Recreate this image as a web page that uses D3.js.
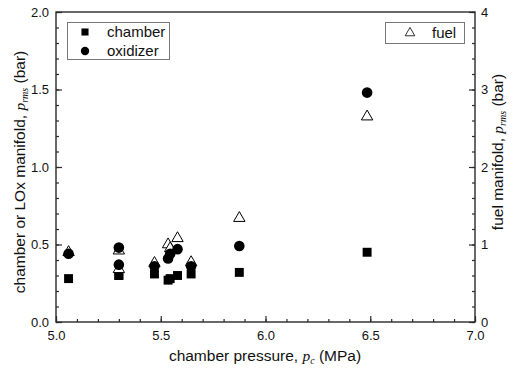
<!doctype html>
<html>
<head>
<meta charset="utf-8">
<style>
  body { margin: 0; background: #fff; }
  text { font-family: 'Liberation Sans', Arial, sans-serif; fill: #111; }
  .legend { font-size: 15px; }
  .title { font-size: 15.5px; }
  .it { font-family: 'Liberation Serif', serif; font-style: italic; }
</style>
<script src="https://d3js.org/d3.v7.min.js"></script>
</head>
<body>
<svg width="513" height="370"></svg>
<script>
// chamber pressure (MPa)
const pc       = [5.06, 5.30, 5.30, 5.47, 5.535, 5.545, 5.58, 5.645, 5.875, 6.485];
// rms pressure (bar), left axis
const chamber  = [0.28, 0.30, 0.30, 0.31, 0.27, 0.28, 0.30, 0.31, 0.32, 0.45];
const oxidizer = [0.44, 0.48, 0.37, 0.36, 0.41, 0.44, 0.47, 0.36, 0.49, 1.48];
// rms pressure (bar), right axis
const fuel     = [0.90, 0.92, 0.68, 0.76, 1.00, 0.95, 1.08, 0.77, 1.34, 2.65];

const xTicks = [5.0, 5.5, 6.0, 6.5, 7.0];
const yTicks = [0.0, 0.5, 1.0, 1.5, 2.0];
const y2Ticks = [0, 1, 2, 3, 4];

const svg = d3.select('svg');
const L = 56, R = 475, T = 12, B = 322;

const x = d3.scaleLinear().domain([5, 7]).range([L, R]);
const y = d3.scaleLinear().domain([0, 2]).range([B, T]);
const y2 = d3.scaleLinear().domain([0, 4]).range([B, T]);

const ink = '#2a2a2a';

// frame
svg.append('rect')
  .attr('x', L).attr('y', T).attr('width', R - L).attr('height', B - T)
  .attr('fill', 'none').attr('stroke', ink).attr('stroke-width', 1.4);

// axes, ticks pointing inward
svg.append('g').attr('transform', `translate(0,${B})`)
  .call(d3.axisBottom(x).tickValues(xTicks).tickFormat(d3.format('.1f')).tickSize(-6).tickPadding(9));
svg.append('g').attr('transform', `translate(0,${B})`)
  .call(d3.axisBottom(x).tickValues(d3.range(5, 7.001, 0.1)).tickFormat('').tickSize(-3));

svg.append('g').attr('transform', `translate(${L},0)`)
  .call(d3.axisLeft(y).tickValues(yTicks).tickFormat(d3.format('.1f')).tickSize(-6).tickPadding(7));
svg.append('g').attr('transform', `translate(${L},0)`)
  .call(d3.axisLeft(y).tickValues(d3.range(0, 2.001, 0.1)).tickFormat('').tickSize(-3));

svg.append('g').attr('transform', `translate(${R},0)`)
  .call(d3.axisRight(y2).tickValues(y2Ticks).tickFormat(d3.format('d')).tickSize(-6).tickPadding(6));
svg.append('g').attr('transform', `translate(${R},0)`)
  .call(d3.axisRight(y2).tickValues(d3.range(0, 4.001, 0.2)).tickFormat('').tickSize(-3));

svg.selectAll('.domain').remove();
svg.selectAll('.tick line').attr('stroke', ink).attr('stroke-width', 1.2);
svg.selectAll('.tick text').attr('fill', '#111')
  .style('font-family', "'Liberation Sans', Arial, sans-serif").style('font-size', '13px');

// markers
const sq = d3.symbol().type(d3.symbolSquare).size(80);
const ci = d3.symbol().type(d3.symbolCircle).size(88);
const tr = d3.symbol().type(d3.symbolTriangle).size(56);

svg.append('g').selectAll('path').data(pc).enter().append('path')
  .attr('d', sq).attr('fill', '#000')
  .attr('transform', (d, i) => `translate(${x(d)},${y(chamber[i])})`);

svg.append('g').selectAll('path').data(pc).enter().append('path')
  .attr('d', tr).attr('fill', '#fff').attr('stroke', '#000').attr('stroke-width', 1)
  .attr('transform', (d, i) => `translate(${x(d)},${y2(fuel[i])})`);

svg.append('g').selectAll('path').data(pc).enter().append('path')
  .attr('d', ci).attr('fill', '#000')
  .attr('transform', (d, i) => `translate(${x(d)},${y(oxidizer[i])})`);

// legends
svg.append('rect').attr('x', 67.5).attr('y', 22.5).attr('width', 102).attr('height', 37)
  .attr('fill', '#fff').attr('stroke', '#777');
svg.append('path').attr('d', d3.symbol().type(d3.symbolSquare).size(50)).attr('fill', '#000')
  .attr('transform', 'translate(85,32)');
svg.append('path').attr('d', d3.symbol().type(d3.symbolCircle).size(55)).attr('fill', '#000')
  .attr('transform', 'translate(85,51)');
svg.append('text').attr('class', 'legend').attr('x', 107).attr('y', 37).text('chamber');
svg.append('text').attr('class', 'legend').attr('x', 107).attr('y', 56).text('oxidizer');

svg.append('rect').attr('x', 385.5).attr('y', 22.5).attr('width', 79).attr('height', 21)
  .attr('fill', '#fff').attr('stroke', '#777');
svg.append('path').attr('d', d3.symbol().type(d3.symbolTriangle).size(40)).attr('fill', '#fff')
  .attr('stroke', '#000').attr('stroke-width', 0.8)
  .attr('transform', 'translate(410,33)');
svg.append('text').attr('class', 'legend').attr('x', 432).attr('y', 38).text('fuel');

// axis titles
const xt = svg.append('text').attr('class', 'title').attr('x', 265).attr('y', 361).attr('text-anchor', 'middle');
xt.append('tspan').text('chamber pressure, ');
xt.append('tspan').attr('class', 'it').text('p');
xt.append('tspan').attr('class', 'it').attr('dy', 3).style('font-size', '10px').text('c');
xt.append('tspan').attr('dy', -3).text(' (MPa)');

const yt = svg.append('text').attr('class', 'title').attr('text-anchor', 'middle')
  .attr('transform', 'translate(25,172) rotate(-90)');
yt.append('tspan').text('chamber or LOx manifold, ');
yt.append('tspan').attr('class', 'it').text('p');
yt.append('tspan').attr('class', 'it').attr('dy', 3).style('font-size', '10px').text('rms');
yt.append('tspan').attr('dy', -3).text(' (bar)');

const y2t = svg.append('text').attr('class', 'title').attr('text-anchor', 'middle')
  .attr('transform', 'translate(503,152) rotate(-90)');
y2t.append('tspan').text('fuel manifold, ');
y2t.append('tspan').attr('class', 'it').text('p');
y2t.append('tspan').attr('class', 'it').attr('dy', 3).style('font-size', '10px').text('rms');
y2t.append('tspan').attr('dy', -3).text(' (bar)');
</script>
</body>
</html>
